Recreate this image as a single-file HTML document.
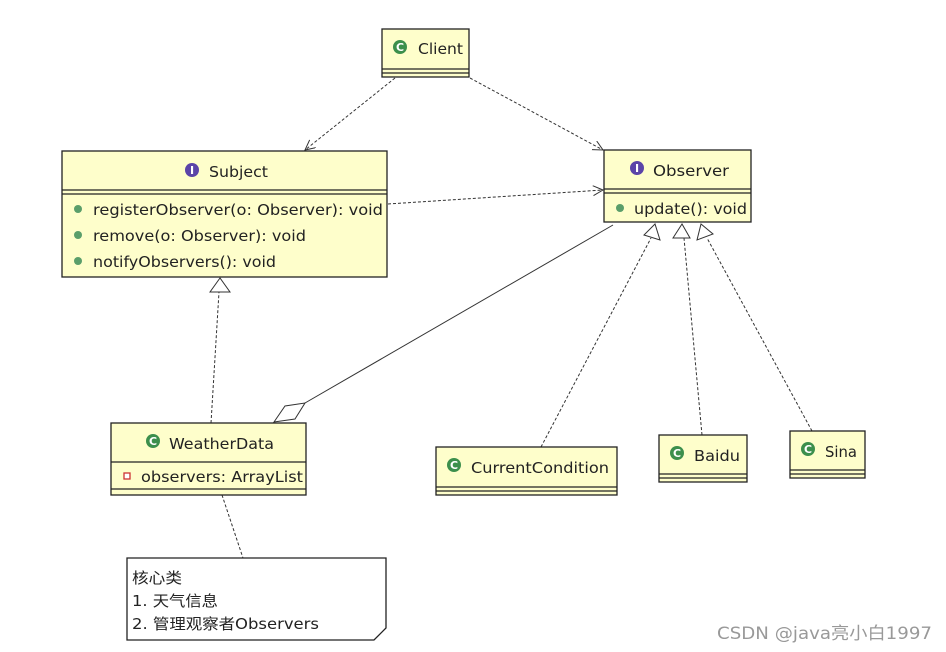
<!DOCTYPE html>
<html><head><meta charset="utf-8"><style>
body{margin:0;background:#fff;}
svg{display:block;}
text{font-family:"DejaVu Sans","Noto Sans CJK SC",sans-serif;font-size:15px;fill:#222;}
</style></head><body>
<svg width="946" height="652" viewBox="0 0 946 652">
<defs>
<marker id="op" markerWidth="12" markerHeight="12" refX="10" refY="5" orient="auto" markerUnits="userSpaceOnUse">
<path d="M0,0 L10,5 L0,10" fill="none" stroke="#333" stroke-width="1"/></marker>
</defs>
<g stroke="#333" stroke-width="1" fill="none">
<line x1="395" y1="78" x2="305" y2="150" stroke-dasharray="3,2" marker-end="url(#op)"/>
<line x1="470" y1="78" x2="603" y2="150" stroke-dasharray="3,2" marker-end="url(#op)"/>
<line x1="388" y1="204" x2="603" y2="190" stroke-dasharray="3,2" marker-end="url(#op)"/>
<line x1="211" y1="423" x2="219" y2="292" stroke-dasharray="3,2"/>
<polygon points="220,278 210,292 230,292" fill="#fff"/>
<line x1="541" y1="447" x2="651" y2="238" stroke-dasharray="3,2"/>
<polygon points="655,224 644,235 660,240" fill="#fff"/>
<line x1="702" y1="435" x2="684" y2="238" stroke-dasharray="3,2"/>
<polygon points="682,224 673,238 690,238" fill="#fff"/>
<line x1="812" y1="431" x2="707" y2="238" stroke-dasharray="3,2"/>
<polygon points="701,224 697,240 713,234" fill="#fff"/>
<line x1="305" y1="403" x2="613" y2="225"/>
<polygon points="274,422 285,406 305,403 295,419" fill="#fff"/>
<line x1="222" y1="495" x2="243" y2="558" stroke-dasharray="3,2"/>
</g>
<g stroke="#222" stroke-width="1.3">
<rect x="382" y="29" width="87" height="48" fill="#fefecb"/>
<line x1="382" y1="69" x2="469" y2="69"/><line x1="382" y1="73" x2="469" y2="73"/>
<rect x="62" y="151" width="325" height="126" fill="#fefecb"/>
<line x1="62" y1="190" x2="387" y2="190"/><line x1="62" y1="194" x2="387" y2="194"/>
<rect x="604" y="150" width="147" height="72" fill="#fefecb"/>
<line x1="604" y1="189" x2="751" y2="189"/><line x1="604" y1="193" x2="751" y2="193"/>
<rect x="111" y="423" width="195" height="72" fill="#fefecb"/>
<line x1="111" y1="462" x2="306" y2="462"/><line x1="111" y1="489" x2="306" y2="489"/>
<rect x="436" y="447" width="181" height="48" fill="#fefecb"/>
<line x1="436" y1="487" x2="617" y2="487"/><line x1="436" y1="491" x2="617" y2="491"/>
<rect x="659" y="435" width="88" height="47" fill="#fefecb"/>
<line x1="659" y1="474" x2="747" y2="474"/><line x1="659" y1="478" x2="747" y2="478"/>
<rect x="790" y="431" width="75" height="47" fill="#fefecb"/>
<line x1="790" y1="470" x2="865" y2="470"/><line x1="790" y1="474" x2="865" y2="474"/>
<path d="M127,558 L386,558 L386,628 L374,640 L127,640 Z" fill="#fff"/>
</g>
<g text-anchor="middle">
<circle cx="400" cy="47" r="7" fill="#3c8f4c"/><text x="400" y="51" style="fill:#fff;font-size:11px;font-weight:bold">C</text>
<circle cx="192" cy="170" r="7" fill="#5b44a8"/><text x="192" y="174" style="fill:#fff;font-size:11px;font-weight:bold">I</text>
<circle cx="637" cy="168" r="7" fill="#5b44a8"/><text x="637" y="172" style="fill:#fff;font-size:11px;font-weight:bold">I</text>
<circle cx="153" cy="441" r="7" fill="#3c8f4c"/><text x="153" y="445" style="fill:#fff;font-size:11px;font-weight:bold">C</text>
<circle cx="454" cy="465" r="7" fill="#3c8f4c"/><text x="454" y="469" style="fill:#fff;font-size:11px;font-weight:bold">C</text>
<circle cx="677" cy="453" r="7" fill="#3c8f4c"/><text x="677" y="457" style="fill:#fff;font-size:11px;font-weight:bold">C</text>
<circle cx="808" cy="449" r="7" fill="#3c8f4c"/><text x="808" y="453" style="fill:#fff;font-size:11px;font-weight:bold">C</text>
</g>
<g fill="#5a9e6a">
<circle cx="78" cy="209" r="4"/><circle cx="78" cy="235" r="4"/><circle cx="78" cy="261" r="4"/>
<circle cx="620" cy="208" r="4"/>
</g>
<rect x="124" y="473" width="6" height="6" fill="#fff" stroke="#c33" stroke-width="1.3"/>
<text x="418" y="54" textLength="45" lengthAdjust="spacingAndGlyphs">Client</text>
<text x="209" y="177" textLength="59" lengthAdjust="spacingAndGlyphs">Subject</text>
<text x="93" y="215" textLength="290" lengthAdjust="spacingAndGlyphs">registerObserver(o: Observer): void</text>
<text x="93" y="241" textLength="213" lengthAdjust="spacingAndGlyphs">remove(o: Observer): void</text>
<text x="93" y="267" textLength="183" lengthAdjust="spacingAndGlyphs">notifyObservers(): void</text>
<text x="653" y="176" textLength="76" lengthAdjust="spacingAndGlyphs">Observer</text>
<text x="634" y="214" textLength="113" lengthAdjust="spacingAndGlyphs">update(): void</text>
<text x="169" y="449" textLength="105" lengthAdjust="spacingAndGlyphs">WeatherData</text>
<text x="141" y="482" textLength="162" lengthAdjust="spacingAndGlyphs">observers: ArrayList</text>
<text x="471" y="473" textLength="138" lengthAdjust="spacingAndGlyphs">CurrentCondition</text>
<text x="694" y="461" textLength="46" lengthAdjust="spacingAndGlyphs">Baidu</text>
<text x="825" y="457" textLength="32" lengthAdjust="spacingAndGlyphs">Sina</text>
<text x="132" y="583" textLength="50" lengthAdjust="spacingAndGlyphs">核心类</text>
<text x="132" y="606" textLength="86" lengthAdjust="spacingAndGlyphs">1. 天气信息</text>
<text x="132" y="629" textLength="187" lengthAdjust="spacingAndGlyphs">2. 管理观察者Observers</text>
<text x="717" y="639" style="fill:#999;font-size:17px" textLength="215" lengthAdjust="spacingAndGlyphs">CSDN @java亮小白1997</text>
</svg>
</body></html>
